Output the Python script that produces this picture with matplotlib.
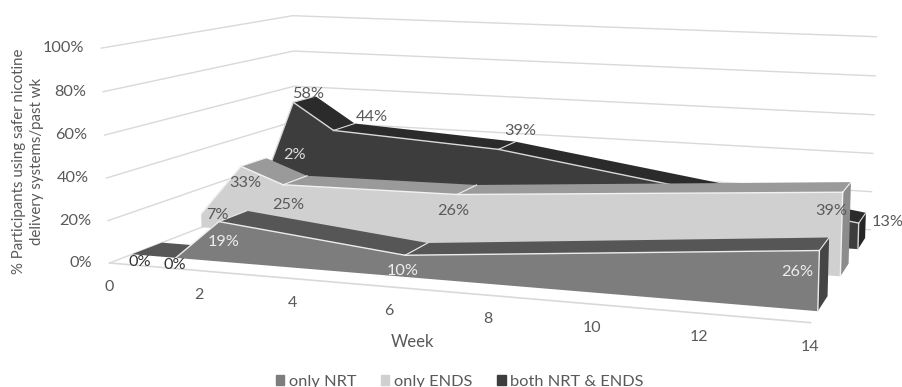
import numpy as np
import matplotlib
matplotlib.use('Agg')
import matplotlib.pyplot as plt
from matplotlib.patches import Patch

plt.rcParams['font.family'] = ['Lato', 'DejaVu Sans']

weeks = [0, 1, 2, 6, 14]
only_nrt = [0, 0, 19, 10, 26]
only_ends = [7, 33, 25, 26, 39]
both = [2, 58, 44, 39, 13]
week_ticks = [0, 2, 4, 6, 8, 10, 12, 14]
pct_ticks = [0, 20, 40, 60, 80, 100]

TEXT = '#595959'
GRID = '#d9d9d9'

# box corners on the canvas: (week, pct, depth) -> pixel, used to fit the 3d camera
calib = [
    ((0, 0, 0), (110, 260)),
    ((14, 0, 0), (815, 322)),
    ((14, 0, 1), (868, 229)),
    ((0, 0, 1), (295, 194)),
    ((0, 100, 0), (100, 45)),
    ((0, 100, 1), (295, 17)),
    ((14, 100, 1), (878, 32)),
    ((14, 100, 0), (813, 87)),
]


def fit_camera(points):
    rows, rhs = [], []
    for (w, p, d), (u, v) in points:
        X = [w / 14, p / 100, d, 1]
        rows.append(X + [0, 0, 0, 0] + [-u * c for c in X[:3]])
        rows.append([0, 0, 0, 0] + X + [-v * c for c in X[:3]])
        rhs += [u, v]
    sol = np.linalg.lstsq(np.array(rows, float), np.array(rhs, float), rcond=None)[0]
    return np.append(sol, 1).reshape(3, 4)


cam = fit_camera(calib)


def proj(w, p, d):
    h = cam @ np.array([w / 14, p / 100, d, 1])
    return h[0] / h[2], h[1] / h[2]


def draw_series(ax, vals, d0, width, front, top, cap, edge, zorder):
    d1 = d0 + width
    pts = [proj(w, v, d0) for w, v in zip(weeks, vals)]
    base = [proj(w, 0, d0) for w in weeks]
    back = [proj(w, v, d1) for w, v in zip(weeks, vals)]
    base_back = proj(weeks[-1], 0, d1)
    for i in range(len(weeks) - 1):
        ax.fill(*zip(pts[i], pts[i + 1], back[i + 1], back[i]), color=top, lw=0, zorder=zorder)
    ax.fill(*zip(*(pts + base[::-1])), color=front, lw=0, zorder=zorder + 0.1)
    ax.fill(*zip(pts[-1], back[-1], base_back, base[-1]), color=cap, lw=0, zorder=zorder + 0.1)
    # no light edge along a stretch that sits flat on the floor
    for i in range(len(weeks) - 1):
        if vals[i] > 0 or vals[i + 1] > 0:
            ax.plot(*zip(pts[i], pts[i + 1]), color=edge, lw=1, zorder=zorder + 0.2)
    for i in range(1, len(weeks)):
        if vals[i] > 0:
            ax.plot(*zip(pts[i], back[i]), color=edge, lw=0.8, zorder=zorder + 0.2)
    ax.plot(*zip(pts[-1], base[-1]), color=edge, lw=1, zorder=zorder + 0.2)


def value_labels(ax, vals, d0, offsets, colors):
    for w, v, off, c in zip(weeks, vals, offsets, colors):
        x, y = proj(w, v, d0)
        ax.text(x + off[0], y + off[1], f'{v}%', color=c, fontsize=11.7, ha='center', va='center', zorder=10)


if __name__ == '__main__':
    fig = plt.figure(figsize=(9.02, 3.87), dpi=100)
    ax = fig.add_axes([0, 0, 1, 1])
    ax.set_xlim(0, 902)
    ax.set_ylim(387, 0)
    ax.axis('off')

    for p in pct_ticks:
        ax.plot(*zip(proj(0, p, 0), proj(0, p, 1), proj(14, p, 1)), color=GRID, lw=1, zorder=1)
        x, y = proj(0, p, 0)
        ax.text(x - 17, y, f'{p}%', color=TEXT, fontsize=11.7, ha='right', va='center')
    ax.plot(*zip(proj(0, 0, 0), proj(14, 0, 0)), color=GRID, lw=1.2, zorder=1)
    for w in week_ticks:
        x, y = proj(w, 0, 0)
        ax.text(x, y + 24, str(w), color=TEXT, fontsize=11.5, ha='center', va='center')

    draw_series(ax, both, 0.75, 0.14, '#3d3d3d', '#2b2b2b', '#262626', '#d8d8d8', 2)
    draw_series(ax, only_ends, 0.44, 0.14, '#d0d0d0', '#9a9a9a', '#8c8c8c', '#f2f2f2', 3)
    draw_series(ax, only_nrt, 0.10, 0.14, '#7d7d7d', '#565656', '#454545', '#ececec', 4)

    value_labels(ax, only_nrt, 0.10, [(8, 8), (-1, 7), (5, 20), (-2, 16), (-22, 21)],
                 ['#333333', '#333333', '#eeeeee', '#eeeeee', '#eeeeee'])
    value_labels(ax, only_ends, 0.44, [(16, 1), (4, 17), (5, 20), (-4, 16), (-11, 19)], [TEXT] * 5)
    value_labels(ax, both, 0.75, [(38, -47), (15, -8), (38, -13), (22, -18), (29, -1)],
                 ['#dddddd', TEXT, TEXT, TEXT, TEXT])

    ax.text(28, 161, '% Participants using safer nicotine\ndelivery systems/past wk', color=TEXT,
            fontsize=10.8, rotation=90, ha='center', va='center', linespacing=1.45)
    ax.text(412, 342, 'Week', color=TEXT, fontsize=12, ha='center', va='center')

    handles = [Patch(color='#7d7d7d', label='only NRT'),
               Patch(color='#d0d0d0', label='only ENDS'),
               Patch(color='#3d3d3d', label='both NRT & ENDS')]
    ax.legend(handles=handles, loc='center', bbox_to_anchor=(0.51, 0.014), ncols=3, frameon=False,
              fontsize=11.8, labelcolor=TEXT, handlelength=0.5, handleheight=0.6, handletextpad=0.3,
              columnspacing=1.5, borderpad=0)

    fig.savefig('out.png', dpi=100)
